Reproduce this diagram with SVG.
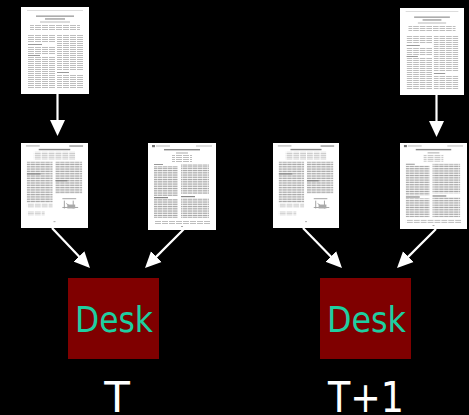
<svg xmlns="http://www.w3.org/2000/svg" xmlns:xlink="http://www.w3.org/1999/xlink" width="469" height="415" viewBox="0 0 469 415">
  <style>
    .page { fill: #ffffff; }
    .desk { fill: #7f0000; }
    .desktext { font-family: "DejaVu Sans", Verdana, sans-serif; font-size: 35px; fill: #1ecfa0; }
    .time { font-family: "DejaVu Sans", Verdana, sans-serif; font-size: 42px; fill: #ffffff; }
    .conn { stroke: #ffffff; stroke-width: 2.2; fill: none; }
  </style>
  <defs>
    <filter id="soft" x="0" y="0" width="1" height="1">
      <feGaussianBlur stdDeviation="0.45"/>
    </filter>
    <pattern id="txt" width="7" height="2" patternUnits="userSpaceOnUse">
      <rect width="6" height="1" fill="#bdbdbd"/>
    </pattern>
    <pattern id="txt2" width="5" height="1.8" patternUnits="userSpaceOnUse">
      <rect width="4.5" height="1" fill="#a6a6a6"/>
    </pattern>
    <marker id="head" markerUnits="userSpaceOnUse" markerWidth="16" markerHeight="16" refX="6" refY="7.5" orient="auto" viewBox="0 0 16 15">
      <path d="M0,0 L16,7.5 L0,15 Z" fill="#ffffff"/>
    </marker>
    <symbol id="docA" viewBox="0 0 68 87" preserveAspectRatio="none">
      <rect class="page" width="68" height="87"/>
      <g filter="url(#soft)">
        <rect x="6" y="3" width="56" height="0.8" fill="#d4d4d4"/>
        <rect x="15" y="8.5" width="38" height="1.3" fill="#9a9a9a"/>
        <rect x="24" y="11.3" width="20" height="1.3" fill="#9a9a9a"/>
        <rect x="19" y="14.5" width="30" height="1" fill="#b8b8b8"/>
        <rect x="9" y="17" width="50" height="7" fill="url(#txt)"/>
        <rect x="7" y="28" width="27" height="8" fill="url(#txt)"/>
        <rect x="7" y="37" width="14" height="1" fill="#999999"/>
        <rect x="7" y="39" width="27" height="8" fill="url(#txt)"/>
        <rect x="7" y="48" width="12" height="1" fill="#999999"/>
        <rect x="7" y="50" width="27" height="32" fill="url(#txt)"/>
        <rect x="36" y="28" width="26" height="36" fill="url(#txt)"/>
        <rect x="36" y="65" width="12" height="1" fill="#999999"/>
        <rect x="36" y="67" width="26" height="15" fill="url(#txt)"/>
      </g>
    </symbol>
    <symbol id="docB" viewBox="0 0 68 87" preserveAspectRatio="none">
      <rect class="page" width="68" height="87"/>
      <g filter="url(#soft)">
        <rect x="5" y="2.5" width="14" height="1" fill="#aaaaaa"/>
        <rect x="49" y="2.5" width="14" height="1.2" fill="#888888"/>
        <rect x="18" y="6" width="32" height="1.4" fill="#888888"/>
        <rect x="13" y="9" width="42" height="8" fill="url(#txt)"/>
        <rect x="6" y="19" width="26" height="42" fill="url(#txt2)"/>
        <rect x="35" y="19" width="27" height="33" fill="url(#txt2)"/>
        <rect x="6" y="31" width="14" height="1.2" fill="#888888"/>
        <rect x="35" y="38" width="12" height="1.2" fill="#888888"/>
        <rect x="6" y="62" width="26" height="4" fill="url(#txt)"/>
        <path d="M42,57 h14 M44,59 v8 M53,59 v8 M42,66 h16 M46,62 l6,4" stroke="#999999" stroke-width="0.9" fill="none"/>
        <rect x="47" y="63" width="8" height="4" fill="#aaaaaa"/>
        <rect x="6" y="70" width="18" height="4" fill="url(#txt)"/>
        <rect x="33" y="80" width="2" height="1" fill="#aaaaaa"/>
      </g>
    </symbol>
    <symbol id="docC" viewBox="0 0 68 87" preserveAspectRatio="none">
      <rect class="page" width="68" height="87"/>
      <g filter="url(#soft)">
        <rect x="4" y="2" width="3" height="2.2" fill="#777777"/>
        <rect x="8" y="2.5" width="14" height="1" fill="#bbbbbb"/>
        <rect x="48" y="2.5" width="16" height="1" fill="#bbbbbb"/>
        <rect x="16" y="6" width="36" height="1.4" fill="#8a8a8a"/>
        <rect x="28" y="9.5" width="12" height="1" fill="#aaaaaa"/>
        <rect x="24" y="12" width="20" height="7" fill="url(#txt)"/>
        <rect x="6" y="21" width="9" height="1" fill="#999999"/>
        <rect x="6" y="23" width="24" height="30" fill="url(#txt2)"/>
        <rect x="33" y="21" width="28" height="30" fill="url(#txt2)"/>
        <rect x="6" y="54" width="14" height="1.2" fill="#888888"/>
        <rect x="6" y="56" width="24" height="19" fill="url(#txt2)"/>
        <rect x="33" y="53" width="14" height="1.2" fill="#888888"/>
        <rect x="33" y="55" width="28" height="20" fill="url(#txt2)"/>
        <rect x="6" y="77" width="56" height="4" fill="url(#txt)"/>
        <rect x="33" y="83" width="2" height="1" fill="#aaaaaa"/>
      </g>
    </symbol>
  </defs>
  <rect width="469" height="415" fill="#000000"/>

  <g id="connectors">
    <path class="conn" d="M57.5,94 L57.5,126" marker-end="url(#head)"/>
    <path class="conn" d="M52,228 L83.1,260.7" marker-end="url(#head)"/>
    <path class="conn" d="M184,229 L152.1,260.9" marker-end="url(#head)"/>
    <path class="conn" d="M436.5,95 L436.5,127" marker-end="url(#head)"/>
    <path class="conn" d="M303,228 L335,260.8" marker-end="url(#head)"/>
    <path class="conn" d="M436,229 L404.1,260.9" marker-end="url(#head)"/>
  </g>

  <g id="paper-a-t"><use xlink:href="#docA" href="#docA" x="21" y="7" width="68" height="87"/></g>
  <g id="paper-b-t"><use xlink:href="#docB" href="#docB" x="21" y="143" width="67" height="85"/></g>
  <g id="paper-c-t"><use xlink:href="#docC" href="#docC" x="148" y="143" width="68" height="87"/></g>

  <g id="paper-a-t1"><use xlink:href="#docA" href="#docA" x="400" y="8" width="64" height="87"/></g>
  <g id="paper-b-t1"><use xlink:href="#docB" href="#docB" x="273" y="143" width="66" height="85"/></g>
  <g id="paper-c-t1"><use xlink:href="#docC" href="#docC" x="400" y="143" width="67" height="86"/></g>

  <g id="desk-t">
    <rect class="desk" x="68" y="278" width="91" height="81"/>
    <text class="desktext" x="114" y="332" text-anchor="middle" textLength="78" lengthAdjust="spacingAndGlyphs">Desk</text>
  </g>
  <g id="desk-t1">
    <rect class="desk" x="320" y="278" width="91" height="81"/>
    <text class="desktext" x="366.5" y="332" text-anchor="middle" textLength="79" lengthAdjust="spacingAndGlyphs">Desk</text>
  </g>

  <g id="label-t">
    <text class="time" x="117" y="412" text-anchor="middle">T</text>
  </g>
  <g id="label-t1">
    <text class="time" x="366" y="412" text-anchor="middle" textLength="76" lengthAdjust="spacingAndGlyphs">T+1</text>
  </g>
</svg>
